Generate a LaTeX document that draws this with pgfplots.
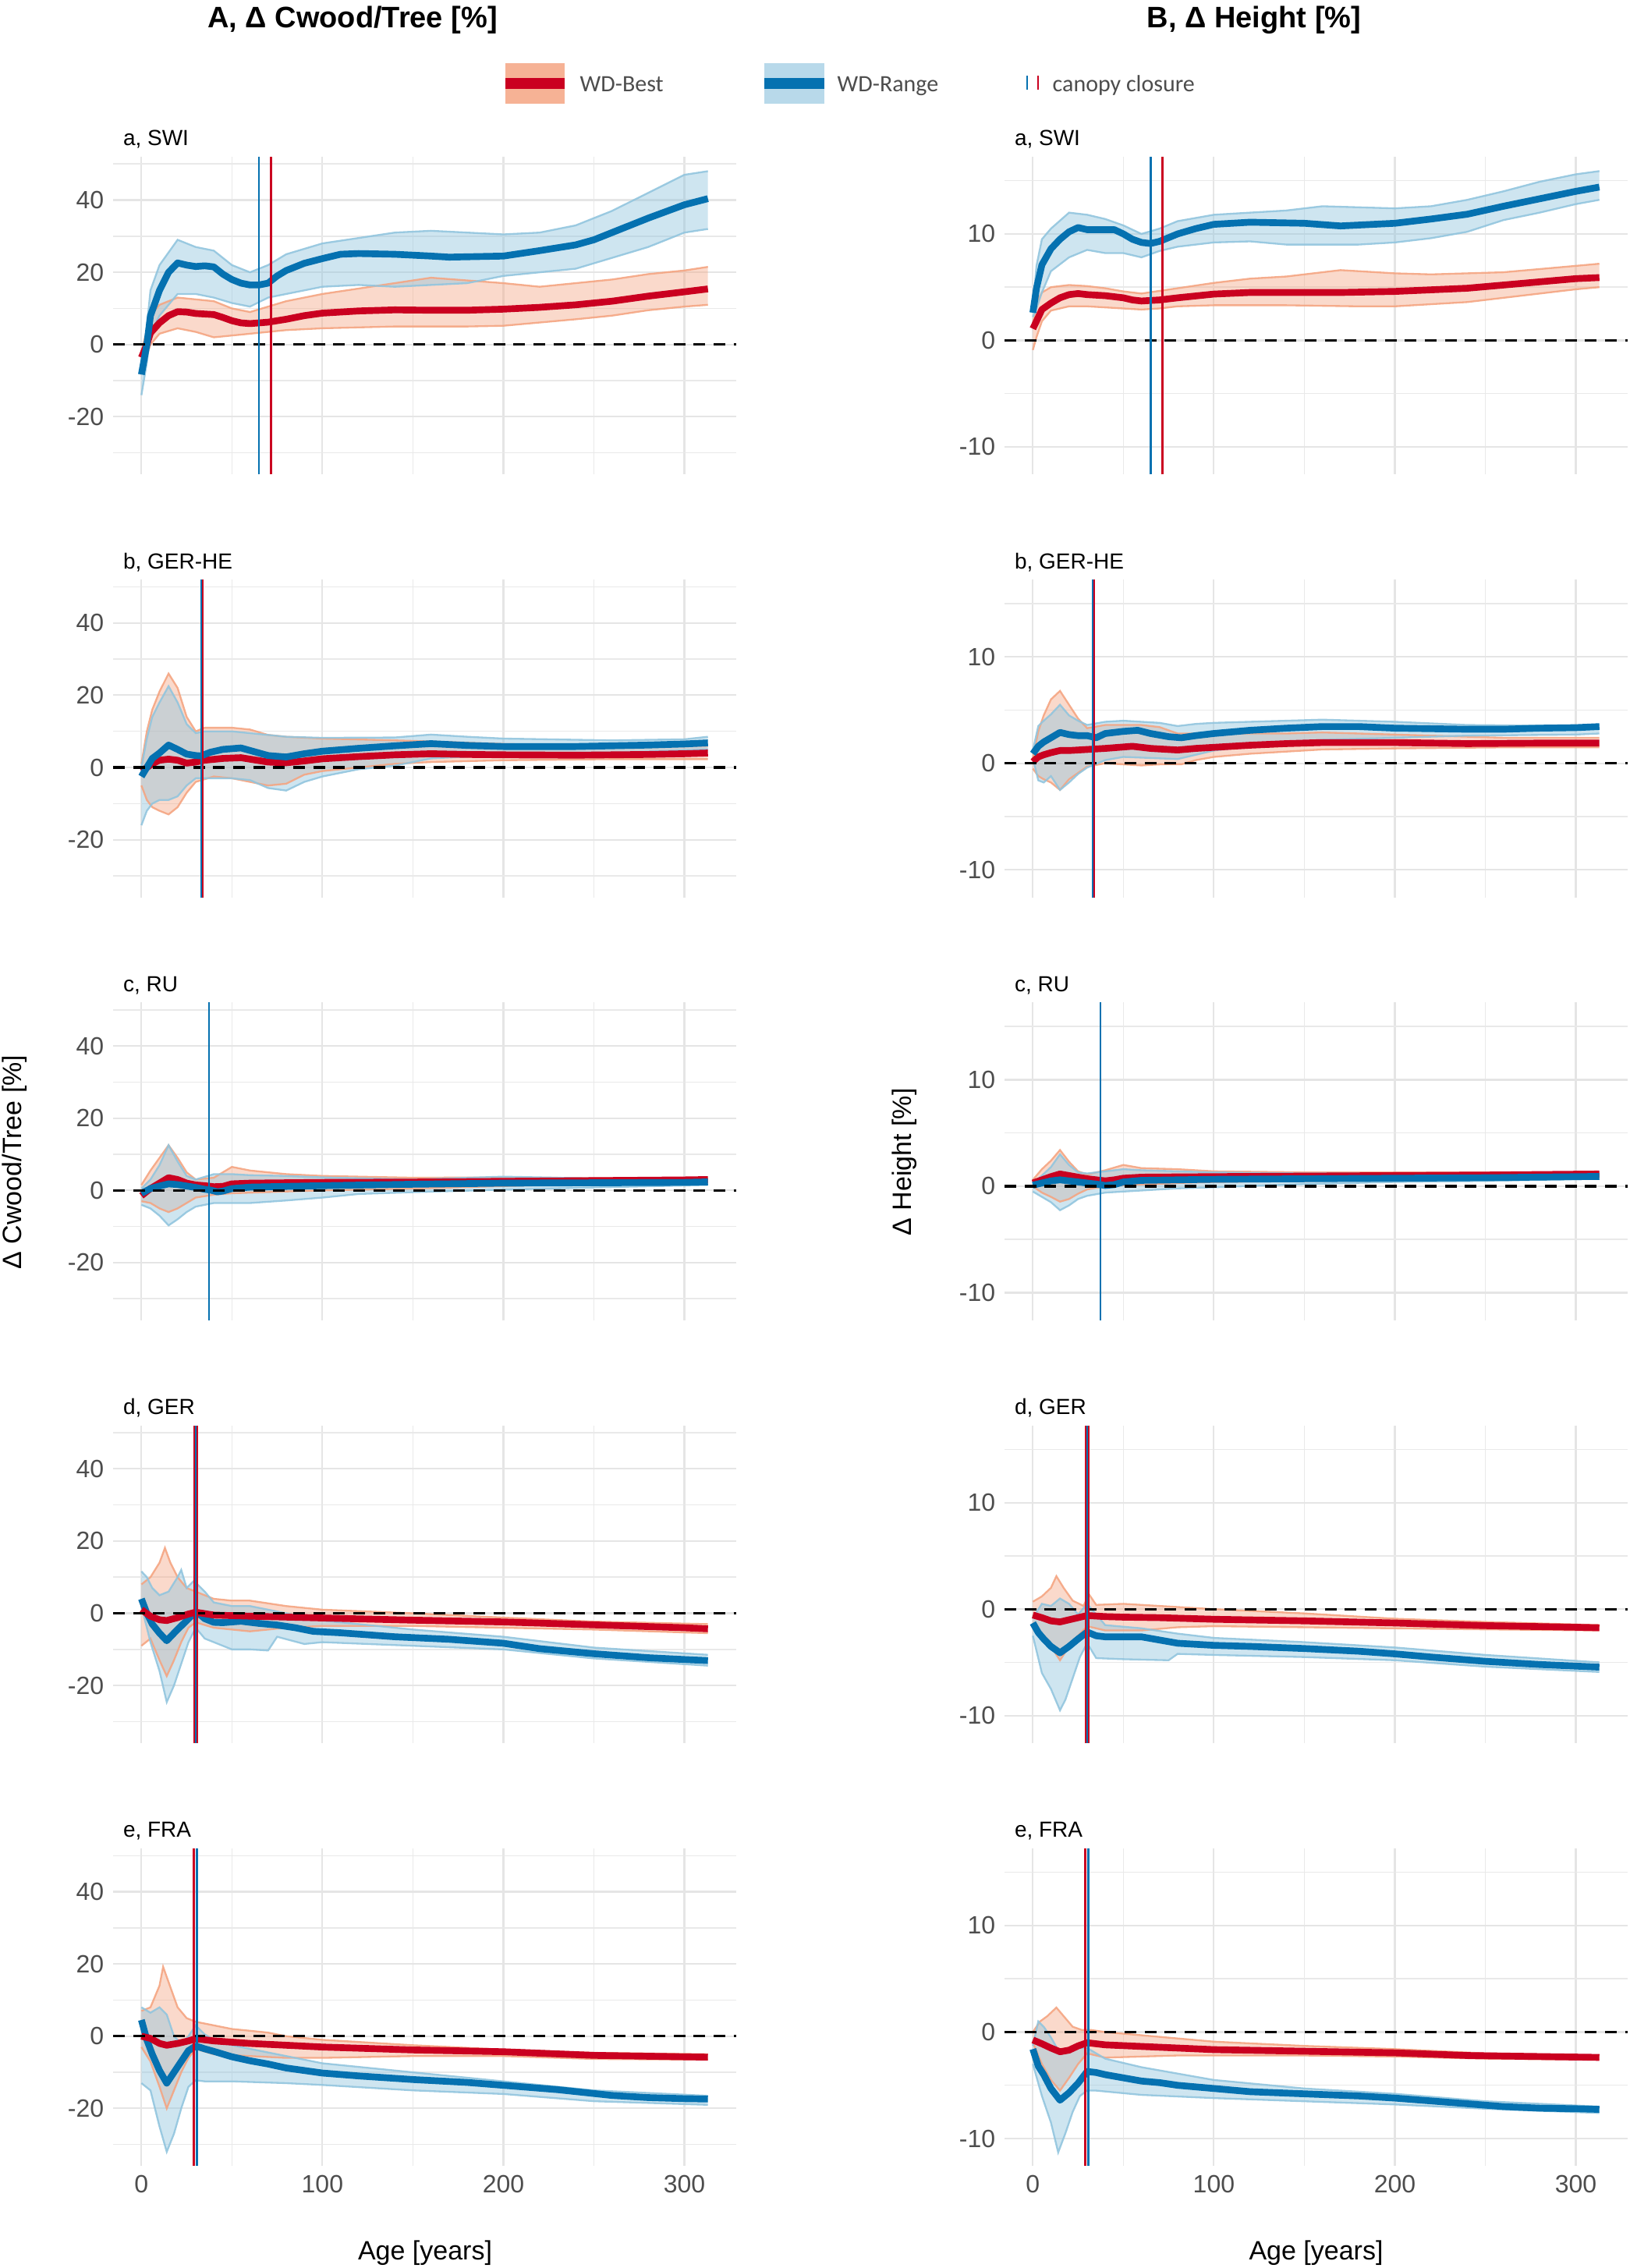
\documentclass[border=0pt]{standalone}
\usepackage{fontspec}
\setmainfont{Liberation Sans}
\newfontfamily\legfont{Carlito}
\usepackage{pgfplots}
\pgfplotsset{compat=1.18}
\usepgfplotslibrary{fillbetween}

\definecolor{rdark}{HTML}{CA0020}
\definecolor{rlight}{HTML}{F4A582}
\definecolor{bdark}{HTML}{0571B0}
\definecolor{blight}{HTML}{92C5DE}
\definecolor{ticktxt}{HTML}{4D4D4D}
\definecolor{gridc}{HTML}{E5E5E5}

\pgfplotsset{
  panel/.style={
    scale only axis, width=239.7pt, height=122.25pt, anchor=south west,
    xmin=-15.65, xmax=328.65,
    axis line style={draw=none}, tick style={draw=none},
    major tick length=0pt, minor tick length=0pt,
    xtick={0,100,200,300}, minor xtick={50,150,250},
    xticklabels={},
    grid=both,
    major grid style={gridc, line width=0.65pt},
    minor grid style={gridc!85, line width=0.45pt},
    tick label style={font=\fontsize{9.6pt}{11pt}\selectfont, text=ticktxt},
    /pgf/number format/assume math mode=true,
  },
  lpanel/.style={panel, ymin=-36, ymax=52, ytick={-20,0,20,40}, minor ytick={-30,-10,10,30,50}},
  rpanel/.style={panel, ymin=-12.6, ymax=17.25, ytick={-10,0,10}, minor ytick={-5,5,15}},
  bottom/.style={xticklabels={0,100,200,300}},
  thinr/.style={rlight, line width=0.7pt, opacity=0.9},
  thinb/.style={blight, line width=0.7pt, opacity=0.9},
  bandr/.style={fill=rlight, fill opacity=0.42, draw=none},
  bandb/.style={fill=blight, fill opacity=0.45, draw=none},
  meanr/.style={rdark, line width=2.6pt, line join=round},
  meanb/.style={bdark, line width=2.6pt, line join=round},
  zero/.style={black, line width=1pt, dash pattern=on 4.5pt off 3.2pt},
  ccb/.style={bdark, line width=0.8pt},
  ccr/.style={rdark, line width=0.8pt},
}

\newcommand{\ptitle}[3]{\node[anchor=base west, font=\fontsize{8.4pt}{10pt}\selectfont, inner sep=0pt] at (#1,#2) {#3};}

\begin{document}
\begin{tikzpicture}
\path (0,0) rectangle (626.7pt,872.4pt);

% ---------- titles and legend ----------
\node[anchor=base, font=\fontsize{11.4pt}{13pt}\selectfont\bfseries, inner sep=0pt] at (135.6pt,861.8pt) {A, Δ Cwood/Tree [\%]};
\node[anchor=base, font=\fontsize{11.4pt}{13pt}\selectfont\bfseries, inner sep=0pt] at (482.4pt,861.8pt) {B, Δ Height [\%]};

\fill[rlight!85] (194.4pt,832.5pt) rectangle (217.2pt,848.1pt);
\fill[rdark] (194.4pt,838.2pt) rectangle (217.2pt,842.4pt);
\node[anchor=base west, inner sep=0pt, font=\legfont\fontsize{9pt}{10pt}\selectfont, text=ticktxt] at (222.9pt,837.1pt) {WD-Best};
\fill[blight!65] (294pt,832.5pt) rectangle (317.1pt,848.1pt);
\fill[bdark] (294pt,838.2pt) rectangle (317.1pt,842.4pt);
\node[anchor=base west, inner sep=0pt, font=\legfont\fontsize{9pt}{10pt}\selectfont, text=ticktxt] at (321.9pt,837.1pt) {WD-Range};
\draw[bdark, line width=0.8pt] (395.1pt,837.9pt) -- (395.1pt,843.3pt);
\draw[rdark, line width=0.8pt] (399.3pt,837.9pt) -- (399.3pt,843.3pt);
\node[anchor=base west, inner sep=0pt, font=\legfont\fontsize{9pt}{10pt}\selectfont, text=ticktxt] at (404.7pt,837.1pt) {canopy closure};

% axis titles
\node[rotate=90, font=\fontsize{10.2pt}{12pt}\selectfont, inner sep=0pt] at (5.6pt,425.4pt) {Δ Cwood/Tree [\%]};
\node[rotate=90, font=\fontsize{10.2pt}{12pt}\selectfont, inner sep=0pt] at (348pt,425.4pt) {Δ Height [\%]};
\node[font=\fontsize{10.2pt}{12pt}\selectfont, inner sep=0pt] at (163.5pt,5.8pt) {Age [years]};
\node[font=\fontsize{10.2pt}{12pt}\selectfont, inner sep=0pt] at (506.25pt,5.8pt) {Age [years]};

% panel titles
\ptitle{47.2pt}{816.3pt}{a, SWI}
\ptitle{390.1pt}{816.3pt}{a, SWI}
\ptitle{47.2pt}{653.6pt}{b, GER-HE}
\ptitle{390.1pt}{653.6pt}{b, GER-HE}
\ptitle{47.2pt}{490.95pt}{c, RU}
\ptitle{390.1pt}{490.95pt}{c, RU}
\ptitle{47.2pt}{328.3pt}{d, GER}
\ptitle{390.1pt}{328.3pt}{d, GER}
\ptitle{47.2pt}{165.6pt}{e, FRA}
\ptitle{390.1pt}{165.6pt}{e, FRA}

% ================= a, SWI left =================
\begin{axis}[lpanel, at={(43.5pt,689.85pt)}]
\addplot[thinr, name path=rlo] coordinates {(0,-6) (3,-3) (5,0) (10,3) (20,4.5) (30,3.5) (40,2) (50,2.5) (60,3) (80,4) (100,4.5) (140,5) (180,5) (200,5.2) (240,7) (260,8) (280,9.5) (300,10.5) (313,11)};
\addplot[thinr, name path=rhi] coordinates {(0,-2) (3,4) (5,8) (10,11) (20,13) (40,12) (50,10) (60,9) (80,12) (100,14) (120,15.5) (140,17) (160,18.5) (200,17) (220,16) (240,17) (260,18) (280,19.5) (300,20.5) (313,21.5)};
\addplot[thinb, name path=blo] coordinates {(0,-14) (3,-5) (5,3) (10,8) (20,14) (30,14) (40,13) (50,11.5) (60,10.5) (70,13) (80,14) (100,16) (120,16.5) (140,16) (160,16.5) (180,17) (200,19) (220,20) (240,21) (260,24) (280,27) (300,31) (313,32)};
\addplot[thinb, name path=bhi] coordinates {(0,-6) (3,5) (5,15) (10,22) (20,29) (30,27) (40,26) (50,22) (60,20) (70,22) (80,25) (100,28) (120,29.5) (140,31) (160,31.5) (200,30.5) (220,31) (240,33) (260,37) (280,42) (300,47) (313,48)};
\addplot[bandr] fill between[of=rlo and rhi];
\addplot[bandb] fill between[of=blo and bhi];
\addplot[meanr] coordinates {(0,-3.6) (3,0) (5,3.2) (10,6) (15,8) (20,9.1) (25,9) (30,8.6) (40,8.3) (45,7.5) (50,6.6) (55,6) (60,5.8) (70,6.2) (80,7) (90,8) (100,8.7) (120,9.3) (140,9.6) (160,9.5) (180,9.5) (200,9.8) (220,10.3) (240,11) (260,12) (280,13.4) (300,14.6) (313,15.4)};
\addplot[meanb] coordinates {(0,-8.3) (3,0) (5,8) (10,15) (15,20) (20,22.6) (25,22) (30,21.6) (35,21.8) (40,21.5) (45,19.5) (50,18) (55,17) (60,16.5) (65,16.5) (70,17) (75,19) (80,20.5) (90,22.5) (100,23.8) (110,25) (120,25.2) (140,25) (160,24.5) (170,24.2) (200,24.5) (220,26) (240,27.6) (250,29) (260,31) (280,35) (300,38.7) (313,40.4)};
\addplot[zero] coordinates {(-15.65,0) (328.65,0)};
\addplot[ccb] coordinates {(65,-36) (65,52)};
\addplot[ccr] coordinates {(71.7,-36) (71.7,52)};
\end{axis}

% ================= a, SWI right =================
\begin{axis}[rpanel, at={(386.4pt,689.85pt)}]
\addplot[thinr, name path=rlo] coordinates {(0,-0.9) (2,0.3) (5,1.8) (10,2.8) (20,3.2) (30,3.2) (40,3.1) (50,3) (60,2.9) (70,3) (80,3.2) (100,3.3) (140,3.3) (180,3.2) (200,3.2) (240,3.6) (260,4) (280,4.4) (300,4.8) (313,5)};
\addplot[thinr, name path=rhi] coordinates {(0,1.5) (2,3.5) (5,4.5) (10,5) (20,5.2) (30,5.1) (40,4.9) (50,4.6) (60,4.4) (80,4.9) (100,5.4) (120,5.8) (140,6) (170,6.6) (200,6.3) (220,6.2) (240,6.3) (260,6.4) (280,6.7) (300,7) (313,7.2)};
\addplot[thinb, name path=blo] coordinates {(0,2.2) (2,3) (5,4.5) (10,6.5) (20,7.8) (30,8.5) (40,8.2) (50,8.2) (60,7.8) (70,8.4) (80,8.8) (100,9.2) (120,9.3) (140,9) (160,9) (180,9) (200,9.2) (220,9.6) (240,10.2) (260,11.3) (280,12) (300,12.8) (313,13.2)};
\addplot[thinb, name path=bhi] coordinates {(0,3) (2,7) (5,9.5) (10,10.5) (20,12) (30,11.8) (40,11.4) (50,10.8) (60,10) (70,10.5) (80,11.2) (100,11.8) (140,12.2) (160,12.6) (200,12.4) (220,12.6) (240,13.2) (260,14) (280,14.9) (300,15.6) (313,15.9)};
\addplot[bandr] fill between[of=rlo and rhi];
\addplot[bandb] fill between[of=blo and bhi];
\addplot[meanr] coordinates {(0,1.1) (2,1.8) (5,2.9) (10,3.5) (15,4) (20,4.3) (25,4.4) (30,4.3) (40,4.2) (50,4) (55,3.8) (60,3.7) (70,3.8) (80,4) (100,4.35) (120,4.5) (150,4.5) (170,4.5) (200,4.6) (240,4.9) (260,5.2) (280,5.5) (300,5.8) (313,5.9)};
\addplot[meanb] coordinates {(0,2.6) (2,4.9) (5,7.1) (10,8.6) (15,9.5) (20,10.2) (25,10.6) (30,10.4) (40,10.4) (45,10.4) (50,10) (55,9.5) (60,9.2) (65,9.1) (70,9.3) (80,10) (90,10.5) (100,10.9) (120,11.1) (150,11) (170,10.75) (200,11) (220,11.4) (240,11.85) (260,12.6) (280,13.3) (300,14) (313,14.4)};
\addplot[zero] coordinates {(-15.65,0) (328.65,0)};
\addplot[ccb] coordinates {(65,-12.6) (65,17.25)};
\addplot[ccr] coordinates {(71.7,-12.6) (71.7,17.25)};
\end{axis}

% ================= b, GER-HE left =================
\begin{axis}[lpanel, at={(43.5pt,527.175pt)}]
\addplot[thinr, name path=rlo] coordinates {(0,-5) (3,-9) (6,-11) (10,-12) (15,-13) (20,-11) (25,-7) (30,-4) (40,-2.5) (50,-3) (60,-4) (70,-5) (80,-4.5) (90,-2) (100,-1) (120,0) (140,1) (160,1.5) (200,2) (260,2.3) (313,2.3)};
\addplot[thinr, name path=rhi] coordinates {(0,1) (3,10) (6,16) (10,21) (15,26) (20,22) (25,14) (30,10) (35,11) (50,11) (60,10.5) (70,9) (80,8.5) (100,8) (140,7.5) (160,7.2) (200,6.5) (260,6) (313,6)};
\addplot[thinb, name path=blo] coordinates {(0,-16) (3,-12) (6,-10) (10,-9) (15,-9) (20,-8) (25,-5) (30,-3) (40,-3) (50,-3) (60,-3.5) (70,-5.7) (80,-6.4) (90,-4) (100,-2.5) (120,-0.5) (140,0.5) (160,2.5) (200,3.5) (260,4) (313,5)};
\addplot[thinb, name path=bhi] coordinates {(0,0) (3,8) (6,14) (10,18) (15,22.5) (20,18) (25,12) (30,9.5) (35,10) (50,10) (60,9.5) (70,9) (80,8.5) (100,8.2) (140,8.3) (160,9.1) (180,8.5) (200,8) (260,7.5) (300,7.8) (313,8.5)};
\addplot[bandr] fill between[of=rlo and rhi];
\addplot[bandb] fill between[of=blo and bhi];
\addplot[meanr] coordinates {(0,-1) (3,0) (6,1) (10,2) (15,2.3) (20,2) (25,1.2) (30,1.5) (35,2) (45,2.5) (55,2.7) (60,2.3) (70,1.5) (80,1.3) (90,1.8) (100,2.4) (120,3) (140,3.5) (160,3.8) (180,3.6) (200,3.5) (240,3.4) (280,3.6) (300,3.8) (313,4)};
\addplot[meanb] coordinates {(0,-2.5) (3,0) (6,2.5) (10,4) (15,6.2) (20,5) (25,3.7) (30,3.3) (33,3.2) (38,4.2) (45,5) (55,5.4) (60,4.7) (70,3.3) (80,2.9) (90,3.8) (100,4.5) (120,5.3) (140,6) (160,6.6) (180,6.1) (200,5.8) (240,5.8) (260,6) (280,6.2) (300,6.5) (313,6.8)};
\addplot[zero] coordinates {(-15.65,0) (328.65,0)};
\addplot[ccr] coordinates {(33.6,-36) (33.6,52)};
\addplot[ccb] coordinates {(33,-36) (33,52)};
\end{axis}

% ================= b, GER-HE right =================
\begin{axis}[rpanel, at={(386.4pt,527.175pt)}]
\addplot[thinr, name path=rlo] coordinates {(0,-0.5) (3,-1.2) (6,-1.5) (10,-1.8) (15,-2.5) (20,-1.5) (25,-0.9) (30,-0.3) (40,0) (50,-0.1) (60,-0.2) (70,-0.1) (82,-0.1) (90,0.3) (100,0.6) (120,0.9) (140,1.1) (160,1.3) (200,1.4) (260,1.5) (313,1.5)};
\addplot[thinr, name path=rhi] coordinates {(0,0.5) (3,3) (6,4.5) (10,6) (15,6.8) (20,5.5) (25,4.2) (30,3.3) (40,3.6) (60,3.6) (70,3.4) (80,2.8) (100,2.8) (140,2.8) (160,2.9) (200,2.7) (260,2.4) (313,2.4)};
\addplot[thinb, name path=blo] coordinates {(0,0.5) (3,-1.6) (6,-1.8) (10,-1.2) (15,-2.5) (20,-1.8) (25,-1) (30,-0.4) (40,0.3) (50,0.6) (80,0.4) (100,1.2) (120,1.6) (140,1.9) (160,2.2) (200,2.4) (240,2.6) (300,2.7) (313,2.8)};
\addplot[thinb, name path=bhi] coordinates {(0,1.2) (3,3.5) (6,4) (10,4.6) (15,5.5) (20,4.5) (25,4) (30,3.6) (40,3.9) (50,4) (60,3.9) (70,3.8) (80,3.5) (90,3.7) (100,3.8) (140,4) (160,4.1) (200,3.9) (240,3.6) (300,3.5) (313,3.6)};
\addplot[bandr] fill between[of=rlo and rhi];
\addplot[bandb] fill between[of=blo and bhi];
\addplot[meanr] coordinates {(0,0.15) (3,0.6) (6,0.8) (10,1) (15,1.2) (20,1.2) (30,1.3) (40,1.4) (55,1.6) (65,1.4) (80,1.25) (90,1.4) (100,1.5) (120,1.7) (140,1.85) (160,1.95) (200,1.95) (240,1.85) (280,1.9) (313,1.9)};
\addplot[meanb] coordinates {(0,0.9) (3,1.6) (6,2) (10,2.4) (15,2.9) (20,2.7) (25,2.6) (30,2.6) (35,2.4) (40,2.8) (50,3) (58,3.1) (65,2.8) (75,2.5) (82,2.4) (90,2.6) (100,2.8) (120,3.1) (140,3.3) (160,3.45) (180,3.45) (200,3.3) (240,3.2) (260,3.2) (280,3.3) (300,3.35) (313,3.45)};
\addplot[zero] coordinates {(-15.65,0) (328.65,0)};
\addplot[ccr] coordinates {(33.6,-12.6) (33.6,17.25)};
\addplot[ccb] coordinates {(33,-12.6) (33,17.25)};
\end{axis}

% ================= c, RU left =================
\begin{axis}[lpanel, at={(43.5pt,364.5pt)}]
\addplot[thinr, name path=rlo] coordinates {(0,-3) (5,-3.5) (10,-5) (15,-6) (20,-5) (25,-3.5) (30,-2) (40,-1.2) (50,-0.8) (80,-0.3) (100,0) (150,0.5) (200,1.2) (250,1.8) (313,2.2)};
\addplot[thinr, name path=rhi] coordinates {(0,1.5) (5,5.5) (10,9) (15,12.5) (20,9) (25,5) (30,3) (40,3.5) (50,6.5) (60,5.5) (80,4.5) (100,4) (150,3.5) (200,3.6) (250,3.4) (313,3.3)};
\addplot[thinb, name path=blo] coordinates {(0,-4) (5,-5) (10,-7) (15,-9.7) (20,-8) (25,-6) (30,-4.5) (40,-3.5) (50,-3.5) (60,-3.5) (80,-2.8) (100,-2) (120,-1) (150,-0.5) (200,0.2) (250,0.8) (313,1.5)};
\addplot[thinb, name path=bhi] coordinates {(0,0.5) (5,3) (10,7) (15,12.5) (20,8) (25,4) (30,3) (40,4.5) (50,4.5) (60,4.2) (80,4) (100,3.6) (150,3) (200,3.8) (250,3.3) (313,2.8)};
\addplot[bandr] fill between[of=rlo and rhi];
\addplot[bandb] fill between[of=blo and bhi];
\addplot[meanr] coordinates {(0,-1.5) (5,0.5) (10,2) (15,3.5) (20,3) (25,2) (30,1.5) (35,1.3) (40,1) (45,1.1) (50,1.8) (60,2) (80,2.1) (100,2.2) (150,2.3) (200,2.5) (250,2.7) (300,2.9) (313,3)};
\addplot[meanb] coordinates {(0,-0.8) (5,0.5) (10,1.2) (15,1.8) (20,1.6) (25,1.2) (30,0.8) (35,0.3) (38,0.1) (42,-0.4) (45,-0.2) (50,0.5) (60,0.9) (80,1.1) (100,1.3) (150,1.7) (200,2) (250,2.1) (300,2.2) (313,2.35)};
\addplot[zero] coordinates {(-15.65,0) (328.65,0)};
\addplot[ccb] coordinates {(37.4,-36) (37.4,52)};
\end{axis}

% ================= c, RU right =================
\begin{axis}[rpanel, at={(386.4pt,364.5pt)}]
\addplot[thinr, name path=rlo] coordinates {(0,0) (5,-0.6) (10,-1) (15,-1.45) (20,-1.2) (25,-0.7) (30,-0.3) (40,0) (50,0.1) (80,0.3) (100,0.4) (150,0.5) (200,0.6) (313,0.8)};
\addplot[thinr, name path=rhi] coordinates {(0,0.6) (5,1.6) (10,2.4) (15,3.4) (20,2.3) (25,1.4) (30,1.1) (40,1.5) (50,2) (60,1.7) (80,1.6) (100,1.4) (150,1.3) (200,1.3) (313,1.3)};
\addplot[thinb, name path=blo] coordinates {(0,-0.5) (5,-1) (10,-1.5) (15,-2.25) (20,-1.8) (25,-1.2) (30,-0.9) (40,-0.6) (50,-0.5) (60,-0.4) (80,-0.2) (100,-0.1) (150,0.2) (200,0.4) (250,0.5) (313,0.7)};
\addplot[thinb, name path=bhi] coordinates {(0,0.3) (5,1) (10,1.8) (15,3) (20,2) (25,1.3) (30,1.2) (40,1.4) (50,1.6) (60,1.5) (80,1.4) (100,1.3) (150,1.2) (200,1.2) (313,1.1)};
\addplot[bandr] fill between[of=rlo and rhi];
\addplot[bandb] fill between[of=blo and bhi];
\addplot[meanr] coordinates {(0,0.3) (5,0.6) (10,0.9) (15,1.15) (20,1) (25,0.85) (30,0.7) (35,0.6) (40,0.5) (45,0.6) (50,0.75) (60,0.85) (100,0.9) (150,0.95) (200,1) (250,1.05) (313,1.15)};
\addplot[meanb] coordinates {(0,0.1) (5,0.3) (10,0.5) (15,0.6) (20,0.5) (25,0.4) (30,0.3) (35,0.2) (40,0.07) (45,0.15) (50,0.4) (60,0.55) (80,0.6) (100,0.65) (150,0.7) (200,0.75) (250,0.8) (313,0.92)};
\addplot[zero] coordinates {(-15.65,0) (328.65,0)};
\addplot[ccb] coordinates {(37.4,-12.6) (37.4,17.25)};
\end{axis}

% ================= d, GER left =================
\begin{axis}[lpanel, at={(43.5pt,201.825pt)}]
\addplot[thinr, name path=rlo] coordinates {(0,-9) (5,-7) (10,-13) (14,-17.4) (18,-13) (22,-8) (26,-4) (30,-2.5) (40,-4) (50,-4.5) (60,-5) (80,-4) (100,-3.5) (150,-3.5) (200,-4) (250,-4.5) (313,-5.5)};
\addplot[thinr, name path=rhi] coordinates {(0,8) (5,10) (10,14) (13,18.1) (16,14) (20,10) (25,7) (30,6) (40,4) (50,3.5) (60,3.5) (80,2) (100,1) (150,0) (200,-1.2) (250,-2.3) (313,-3)};
\addplot[thinb, name path=blo] coordinates {(0,2) (5,-8) (10,-16) (14,-24.6) (18,-20) (22,-14) (26,-8) (30,-4) (35,-7) (40,-8) (50,-10) (60,-10) (70,-10.3) (75,-6.5) (90,-8.5) (100,-8) (150,-9) (200,-10) (250,-12.5) (313,-14.5)};
\addplot[thinb, name path=bhi] coordinates {(0,11.6) (3,10) (6,7) (10,5) (15,6) (20,10) (22,12) (25,7) (29,9) (35,6) (40,3) (50,2) (60,2) (80,0) (100,-2) (150,-4.5) (200,-6.5) (250,-9.5) (313,-11.5)};
\addplot[bandr] fill between[of=rlo and rhi];
\addplot[bandb] fill between[of=blo and bhi];
\addplot[meanb] coordinates {(0,4) (3,0) (6,-3) (10,-5.5) (14,-7.6) (18,-5.5) (22,-3.5) (26,-1.5) (29,0) (31,0.2) (35,-1.5) (40,-2.5) (45,-2.6) (55,-2.2) (65,-2.8) (75,-3.25) (85,-4) (95,-5) (110,-5.4) (140,-6.5) (170,-7.2) (200,-8.3) (220,-9.8) (250,-11.2) (280,-12.3) (300,-12.8) (313,-13.1)};
\addplot[meanr] coordinates {(0,1) (5,-0.8) (10,-1.8) (14,-2) (20,-1.2) (26,-0.2) (30,0.3) (40,-0.5) (60,-0.8) (100,-1.3) (150,-1.9) (200,-2.4) (250,-3.2) (300,-4) (313,-4.3)};
\addplot[zero] coordinates {(-15.65,0) (328.65,0)};
\addplot[rdark, line width=1.8pt] coordinates {(30,-36) (30,52)};
\addplot[ccb] coordinates {(30,-36) (30,52)};
\end{axis}

% ================= d, GER right =================
\begin{axis}[rpanel, at={(386.4pt,201.825pt)}]
\addplot[thinr, name path=rlo] coordinates {(0,-1.3) (5,-2.5) (10,-3.5) (15,-4.8) (20,-3.5) (25,-2.5) (30,-1.6) (40,-2) (60,-2) (80,-1.7) (100,-1.6) (150,-1.7) (200,-1.8) (250,-1.9) (313,-2)};
\addplot[thinr, name path=rhi] coordinates {(0,0.7) (5,1.2) (10,2) (13,3.1) (17,2) (22,0.8) (28,0.3) (31,1.4) (35,0.4) (50,0.5) (70,0.3) (100,0) (150,-0.4) (200,-0.9) (250,-1.2) (313,-1.5)};
\addplot[thinb, name path=blo] coordinates {(0,-2.5) (5,-6) (10,-7.5) (15,-9.5) (18,-8.5) (22,-6.5) (26,-4.5) (30,-3.2) (35,-4.6) (50,-4.7) (75,-4.8) (80,-4.2) (100,-4.3) (150,-4.5) (200,-4.8) (250,-5.4) (313,-5.9)};
\addplot[thinb, name path=bhi] coordinates {(0,-0.8) (5,0.5) (10,0.3) (15,1) (20,0.5) (25,-0.5) (30,0.5) (40,-1.5) (60,-1.8) (80,-2.3) (100,-2.7) (150,-3.1) (200,-3.6) (250,-4.3) (313,-5)};
\addplot[bandr] fill between[of=rlo and rhi];
\addplot[bandb] fill between[of=blo and bhi];
\addplot[meanb] coordinates {(0,-1.3) (3,-2.2) (6,-2.8) (10,-3.5) (15,-4.1) (20,-3.5) (25,-2.8) (30,-2.15) (35,-2.5) (40,-2.6) (50,-2.6) (60,-2.6) (70,-2.9) (80,-3.2) (100,-3.4) (120,-3.5) (150,-3.7) (180,-3.95) (200,-4.2) (220,-4.5) (250,-4.9) (280,-5.2) (300,-5.35) (313,-5.45)};
\addplot[meanr] coordinates {(0,-0.55) (5,-0.8) (10,-1.1) (15,-1.2) (20,-1) (25,-0.8) (30,-0.6) (40,-0.7) (50,-0.75) (70,-0.8) (100,-0.95) (150,-1.1) (200,-1.3) (250,-1.55) (300,-1.7) (313,-1.75)};
\addplot[zero] coordinates {(-15.65,0) (328.65,0)};
\addplot[rdark, line width=1.8pt] coordinates {(30,-12.6) (30,17.25)};
\addplot[ccb] coordinates {(30,-12.6) (30,17.25)};
\end{axis}

% ================= e, FRA left =================
\begin{axis}[lpanel, bottom, at={(43.5pt,39.15pt)}]
\addplot[thinr, name path=rlo] coordinates {(0,-3) (5,-7) (10,-14) (14,-20) (18,-15) (22,-10) (26,-6) (30,-3.5) (40,-5) (60,-5.5) (80,-6) (100,-6) (150,-5.5) (200,-5.5) (250,-6.3) (313,-6.5)};
\addplot[thinr, name path=rhi] coordinates {(0,7) (5,8) (10,14) (12,19.2) (15,15) (20,8) (25,5) (30,4) (40,3) (50,2) (70,1) (80,0) (100,-1) (150,-2.5) (200,-3.7) (250,-4.6) (313,-5)};
\addplot[thinb, name path=blo] coordinates {(0,-13) (5,-15) (10,-25) (14,-32) (18,-27) (22,-20) (26,-14) (30,-12.2) (35,-12.5) (50,-12.5) (80,-13) (100,-13.5) (150,-15) (200,-16) (250,-18) (313,-19)};
\addplot[thinb, name path=bhi] coordinates {(0,8) (5,6.5) (10,8) (14,6) (18,0) (22,-2) (26,0) (30,3) (35,0.5) (40,-1) (50,-2.5) (60,-3.5) (80,-5.5) (100,-7.5) (150,-10) (200,-12.5) (250,-15) (313,-16.5)};
\addplot[bandr] fill between[of=rlo and rhi];
\addplot[bandb] fill between[of=blo and bhi];
\addplot[meanb] coordinates {(0,4.5) (3,-1) (6,-5) (10,-9.5) (14,-13) (18,-10) (22,-7) (26,-4) (30,-2.7) (35,-3.5) (40,-4.2) (50,-5.7) (60,-6.8) (70,-7.7) (80,-8.8) (100,-10.2) (120,-11) (150,-12) (180,-12.8) (200,-13.6) (230,-14.8) (260,-16.4) (280,-17) (300,-17.3) (313,-17.4)};
\addplot[meanr] coordinates {(0,0) (5,-0.6) (10,-2) (14,-2.5) (20,-2) (26,-1.3) (30,-0.7) (35,-1) (40,-1.3) (60,-2) (80,-2.5) (100,-3) (150,-3.8) (200,-4.3) (250,-5.3) (300,-5.7) (313,-5.8)};
\addplot[zero] coordinates {(-15.65,0) (328.65,0)};
\addplot[ccr] coordinates {(29,-36) (29,52)};
\addplot[ccb] coordinates {(30.6,-36) (30.6,52)};
\end{axis}

% ================= e, FRA right =================
\begin{axis}[rpanel, bottom, at={(386.4pt,39.15pt)}]
\addplot[thinr, name path=rlo] coordinates {(0,-1) (5,-3) (10,-4.5) (15,-5.5) (20,-4.3) (25,-3) (30,-2) (40,-2.4) (60,-2.3) (80,-2.2) (100,-2.2) (150,-2.2) (200,-2.3) (250,-2.5) (313,-2.6)};
\addplot[thinr, name path=rhi] coordinates {(0,0) (4,1) (8,1.5) (13,2.3) (17,1.5) (22,0.5) (27,0.2) (32,0.2) (40,0) (60,-0.3) (80,-0.6) (100,-0.9) (150,-1.3) (200,-1.6) (250,-2) (313,-2.2)};
\addplot[thinb, name path=blo] coordinates {(0,-3) (5,-6) (10,-8.5) (14,-11.3) (18,-9.5) (22,-7.5) (26,-6) (30,-5.5) (35,-5.5) (60,-5.9) (100,-6.2) (150,-6.5) (200,-6.8) (250,-7.2) (313,-7.6)};
\addplot[thinb, name path=bhi] coordinates {(0,-1.3) (3,1) (6,0.5) (10,-0.5) (15,-2) (20,-1.5) (25,-1.5) (30,-1.5) (40,-2.5) (60,-3.3) (80,-3.9) (100,-4.5) (150,-5.3) (200,-5.8) (250,-6.5) (313,-7)};
\addplot[bandr] fill between[of=rlo and rhi];
\addplot[bandb] fill between[of=blo and bhi];
\addplot[meanb] coordinates {(0,-1.6) (3,-3.2) (6,-4) (10,-5.3) (15,-6.4) (20,-5.7) (25,-4.8) (30,-3.7) (35,-3.8) (40,-4) (50,-4.3) (60,-4.6) (70,-4.75) (80,-5) (100,-5.3) (120,-5.6) (150,-5.8) (180,-6) (200,-6.2) (230,-6.6) (260,-7) (280,-7.15) (300,-7.2) (313,-7.26)};
\addplot[meanr] coordinates {(0,-0.74) (5,-1.1) (10,-1.5) (15,-1.85) (20,-1.7) (25,-1.3) (30,-1) (40,-1.2) (60,-1.35) (80,-1.5) (100,-1.65) (150,-1.8) (200,-1.95) (240,-2.2) (280,-2.3) (313,-2.38)};
\addplot[zero] coordinates {(-15.65,0) (328.65,0)};
\addplot[ccr] coordinates {(29,-12.6) (29,17.25)};
\addplot[ccb] coordinates {(30.6,-12.6) (30.6,17.25)};
\end{axis}

\end{tikzpicture}
\end{document}
